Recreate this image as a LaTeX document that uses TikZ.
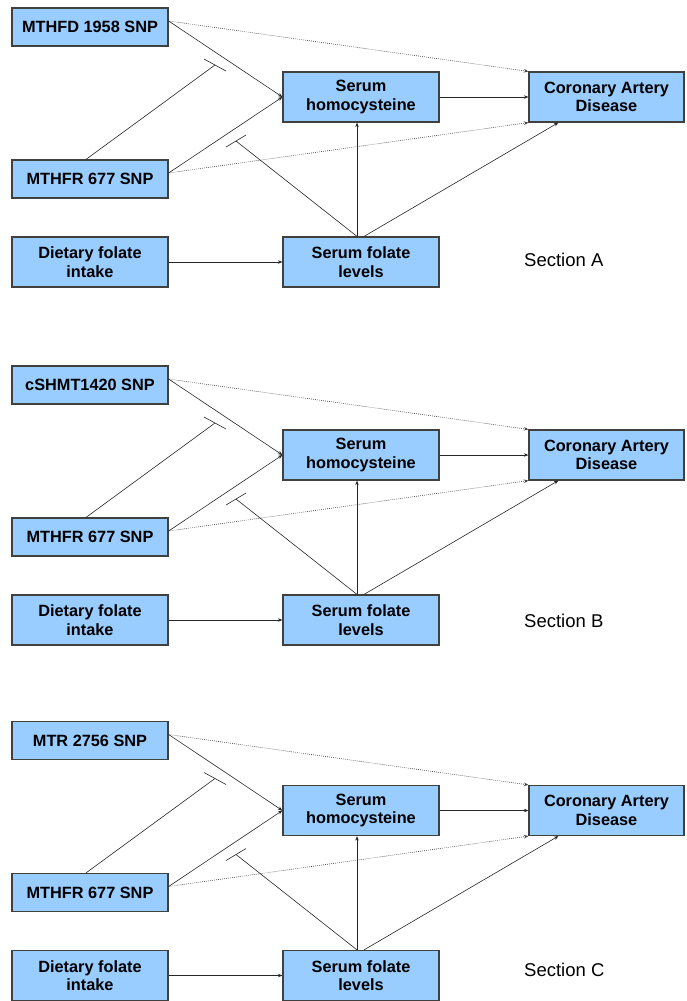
\documentclass[tikz,border=0pt]{standalone}
\usepackage{fontspec}
\setmainfont{Liberation Sans}
\usetikzlibrary{arrows.meta,calc}
\definecolor{boxblue}{HTML}{99CCFF}
\definecolor{boxedge}{HTML}{404040}
\tikzset{
  box/.style={draw=boxedge, line width=1.2pt, fill=boxblue, minimum width=156pt,
    inner sep=0pt, align=center, font=\fontsize{16.3}{18.5}\selectfont\bfseries},
  onebox/.style={box, minimum height=38pt},
  twobox/.style={box, minimum height=50pt},
  link/.style={line width=0.6pt, draw=black!85},
  arr/.style={link, -{Stealth[length=4.5pt,width=3.5pt]}},
  dotarr/.style={line width=0.6pt, draw=black!75, dash pattern=on 0.8pt off 1.2pt, -{Stealth[length=4.5pt,width=3.5pt]}},
  bar/.style={line width=0.6pt, draw=black!85},
  seclabel/.style={font=\fontsize{18.5}{20}\selectfont, inner sep=0pt}
}
\newcommand{\panel}[4]{%
  \begin{scope}[yshift=-#1pt]
    \node[onebox] (g1#2) at (90,27) {#3};
    \node[onebox] (g2#2) at (90,179) {MTHFR 677 SNP};
    \node[twobox] (diet#2) at (90,262) {Dietary folate\\intake};
    \node[twobox] (hcy#2) at (361,97) {Serum\\homocysteine};
    \node[twobox] (fol#2) at (361,262) {Serum folate\\levels};
    \node[twobox, minimum width=155pt] (cad#2) at (606.5,97) {Coronary Artery\\Disease};
    \coordinate (ba#2) at (204,59);
    \coordinate (bb#2) at (226,71);
    \coordinate (bm#2) at (215,65);
    \coordinate (ca#2) at (226,147);
    \coordinate (cb#2) at (246,135);
    \coordinate (cm#2) at (236,141);
    % connectors
    \draw[arr] ([yshift=6pt]g1#2.east) -- (hcy#2.west);
    \draw[dotarr] ([yshift=6pt]g1#2.east) -- (cad#2.north west);
    \draw[link] ([xshift=-4pt]g2#2.north) -- (bm#2);
    \draw[bar] (ba#2) -- (bb#2);
    \draw[arr] ([yshift=6pt]g2#2.east) -- (hcy#2.west);
    \draw[dotarr] ([yshift=6pt]g2#2.east) -- (cad#2.south west);
    \draw[arr] ([xshift=-4pt]fol#2.north) -- ([xshift=-4pt]hcy#2.south);
    \draw[arr] ([xshift=3pt]fol#2.north) -- ([xshift=30pt]cad#2.south west);
    \draw[link] ([xshift=-4pt]fol#2.north) -- (cm#2);
    \draw[bar] (ca#2) -- (cb#2);
    \draw[arr] (diet#2.east) -- (fol#2.west);
    \draw[arr] (hcy#2.east) -- (cad#2.west);
  \end{scope}
  \node[seclabel, anchor=west] (lab#2) at (524,#4) {Section #2};
}
\begin{document}
\begin{tikzpicture}[x=1pt,y=-1pt]
\useasboundingbox (0,0) rectangle (686,1001);
\panel{0}{A}{MTHFD 1958 SNP}{260}
\panel{358}{B}{cSHMT1420 SNP}{620.5}
\panel{713.5}{C}{MTR 2756 SNP}{970}
\end{tikzpicture}
\end{document}
